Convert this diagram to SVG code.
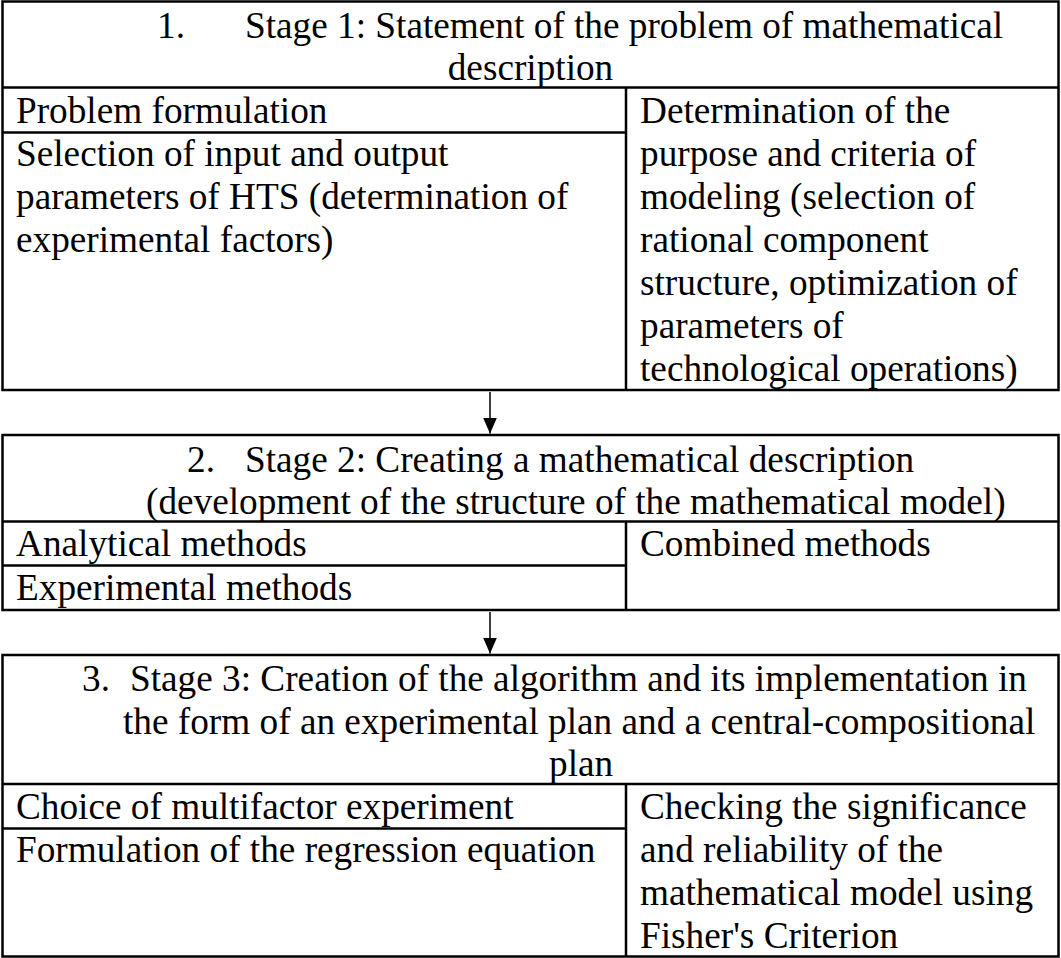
<svg xmlns="http://www.w3.org/2000/svg" width="1061" height="958" viewBox="0 0 1061 958">
<style>
  .t{font-family:"Liberation Serif","Times New Roman",serif;font-size:37.25px;fill:#000}
  .c{text-anchor:middle}
  .b{fill:#fff;stroke:#000;stroke-width:2.5}
  .l{stroke:#000;stroke-width:2.5;fill:none}
  .a{stroke:#000;stroke-width:1.5;fill:none}
</style>
<defs>
  <marker id="ah" markerWidth="16" markerHeight="14" refX="16" refY="7" orient="auto" markerUnits="userSpaceOnUse" viewBox="0 0 16 14">
    <path d="M0,0 L16,7 L0,14 Z" fill="#000"/>
  </marker>
</defs>
<rect width="1061" height="958" fill="#fff"/>
<g id="stage1">
  <rect class="b" x="2.5" y="1.5" width="1056" height="388.5"/>
  <line class="l" x1="2.5" y1="87.5" x2="1058.5" y2="87.5"/>
  <line class="l" x1="626" y1="87.5" x2="626" y2="390"/>
  <line class="l" x1="2.5" y1="132.5" x2="626" y2="132.5"/>
  <text class="t" x="157" y="38">1.</text>
  <text class="t" x="245" y="38">Stage 1: Statement of the problem of mathematical</text>
  <text class="t c" x="530.5" y="80">description</text>
  <text class="t" x="16" y="123">Problem formulation</text>
  <text class="t" x="16" y="166">Selection of input and output</text>
  <text class="t" x="16" y="209">parameters of HTS (determination of</text>
  <text class="t" x="16" y="252">experimental factors)</text>
  <text class="t" x="640" y="123">Determination of the</text>
  <text class="t" x="640" y="166">purpose and criteria of</text>
  <text class="t" x="640" y="209">modeling (selection of</text>
  <text class="t" x="640" y="252">rational component</text>
  <text class="t" x="640" y="295">structure, optimization of</text>
  <text class="t" x="640" y="338">parameters of</text>
  <text class="t" x="640" y="381">technological operations)</text>
</g>
<g id="stage2">
  <rect class="b" x="2.5" y="435" width="1056" height="175"/>
  <line class="l" x1="2.5" y1="521.5" x2="1058.5" y2="521.5"/>
  <line class="l" x1="626" y1="521.5" x2="626" y2="610"/>
  <line class="l" x1="2.5" y1="565.5" x2="626" y2="565.5"/>
  <text class="t" x="187" y="472">2.</text>
  <text class="t" x="245" y="472">Stage 2: Creating a mathematical description</text>
  <text class="t" x="146" y="514">(development of the structure of the mathematical model)</text>
  <text class="t" x="16" y="556">Analytical methods</text>
  <text class="t" x="16" y="600">Experimental methods</text>
  <text class="t" x="640" y="556">Combined methods</text>
</g>
<g id="stage3">
  <rect class="b" x="2.5" y="655" width="1056" height="301.5"/>
  <line class="l" x1="2.5" y1="784" x2="1058.5" y2="784"/>
  <line class="l" x1="626" y1="784" x2="626" y2="956.5"/>
  <line class="l" x1="2.5" y1="828.5" x2="626" y2="828.5"/>
  <text class="t" x="82" y="691">3.</text>
  <text class="t" x="130" y="691">Stage 3: Creation of the algorithm and its implementation in</text>
  <text class="t" x="123" y="734">the form of an experimental plan and a central-compositional</text>
  <text class="t" x="549" y="776">plan</text>
  <text class="t" x="16" y="819">Choice of multifactor experiment</text>
  <text class="t" x="16" y="862">Formulation of the regression equation</text>
  <text class="t" x="640" y="819">Checking the significance</text>
  <text class="t" x="640" y="862">and reliability of the</text>
  <text class="t" x="640" y="905">mathematical model using</text>
  <text class="t" x="640" y="948">Fisher's Criterion</text>
</g>
<g id="connectors">
  <line class="a" x1="490" y1="392" x2="490" y2="433.5" marker-end="url(#ah)"/>
  <line class="a" x1="490" y1="612" x2="490" y2="653.5" marker-end="url(#ah)"/>
</g>
</svg>
